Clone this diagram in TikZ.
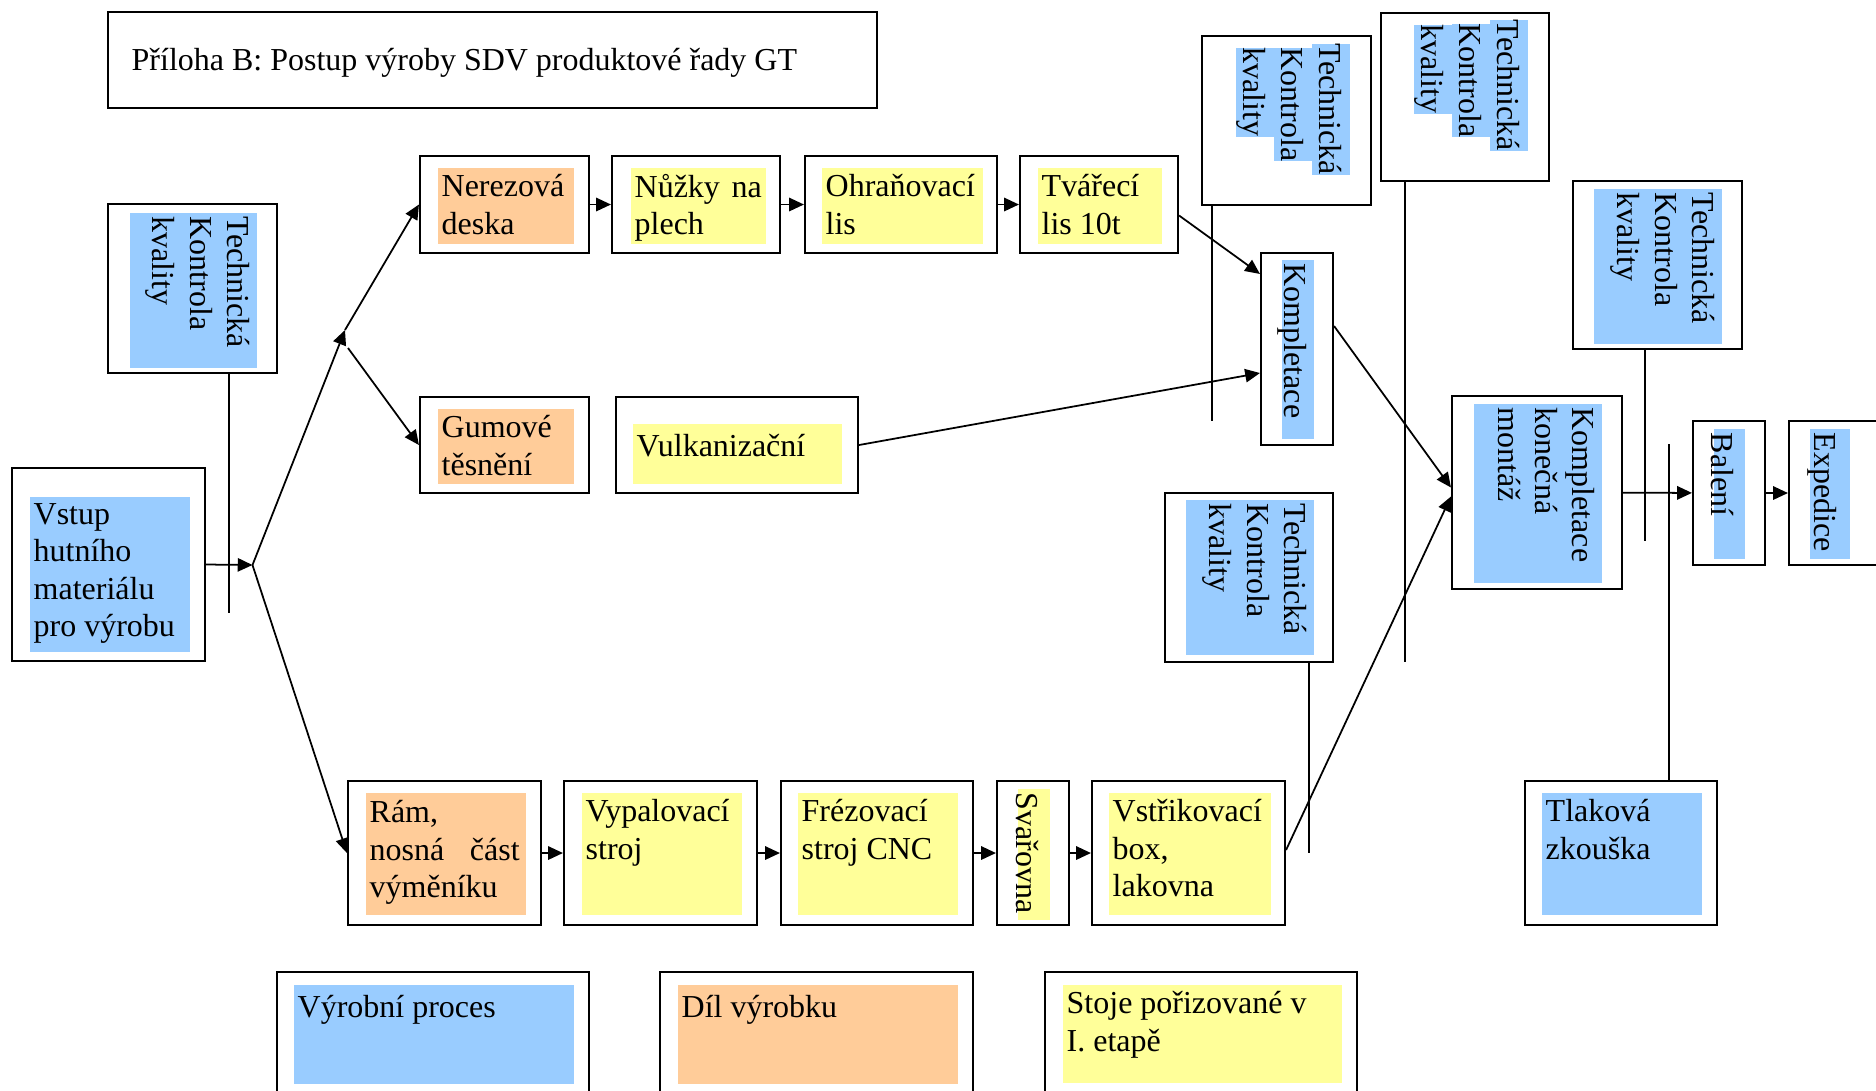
\documentclass[tikz,border=0pt]{standalone}
\usepackage{fontspec}
\setmainfont{Liberation Serif}
\usetikzlibrary{arrows.meta}
\definecolor{procblue}{HTML}{99CCFF}
\definecolor{partorange}{HTML}{FFCC99}
\definecolor{stageyellow}{HTML}{FFFF99}
\tikzset{frame/.style={draw,fill=white,line width=.6pt,inner sep=0pt},procfill/.style={fill=procblue,inner sep=0pt,anchor=north west},partfill/.style={fill=partorange,inner sep=0pt,anchor=north west},stagefill/.style={fill=stageyellow,inner sep=0pt,anchor=north west},boxtext/.style={font=\fontsize{9.1}{10.6}\selectfont,anchor=north west,align=left,inner xsep=.04cm,inner ysep=.07cm,execute at begin node=\strut},vtext/.style={boxtext,rotate=-90},hiline/.style={font=\fontsize{9.1}{10.6}\selectfont,fill=procblue,rotate=-90,anchor=north west,inner sep=0pt,text height=.31cm,text depth=.07cm},flow/.style={line width=.5pt,-{Triangle[length=4.2pt,width=3.8pt]}},checkline/.style={line width=.5pt}}

\begin{document}
\begin{tikzpicture}[x=1cm,y=-1cm]
\clip (0,0) rectangle (18.76,10.90);
% title
\node[frame,minimum width=7.69cm,minimum height=.96cm] (title) at (4.925,.60) {};
\node[boxtext,anchor=base west,inner sep=0pt] (titletext) at (1.31,.70) {Příloha B: Postup výroby SDV produktové řady GT};
% input and first check
\node[frame,minimum width=1.69cm,minimum height=1.69cm] (tk1) at (1.925,2.885) {};
\node[procfill,minimum width=1.27cm,minimum height=1.55cm] (tk1f) at (1.29,2.12) {};
\node[vtext] at (tk1f.north east) {Technická\\ Kontrola\\ kvality};
\node[frame,minimum width=1.93cm,minimum height=1.93cm] (vstup) at (1.085,5.645) {};
\node[procfill,minimum width=1.60cm,minimum height=1.55cm] (vstupf) at (.29,4.96) {};
\node[boxtext] at (vstupf.north west) {Vstup\\ hutního\\ materiálu\\ pro výrobu};
% upper row
\node[frame,minimum width=1.69cm,minimum height=.97cm] (nerez) at (5.045,2.045) {};
\node[partfill,minimum width=1.36cm,minimum height=.76cm] (nerezf) at (4.37,1.67) {};
\node[boxtext] at (nerezf.north west) {Nerezová\\ deska};
\node[frame,minimum width=1.68cm,minimum height=.97cm] (nuzky) at (6.96,2.045) {};
\node[stagefill,minimum width=1.35cm,minimum height=.76cm] (nuzkyf) at (6.30,1.67) {};
\node[boxtext,text width=1.27cm,yshift=.035cm] at (nuzkyf.north west) {Nůžky\hfill na\\ plech};
\node[frame,minimum width=1.92cm,minimum height=.97cm] (ohran) at (9.01,2.045) {};
\node[stagefill,minimum width=1.61cm,minimum height=.76cm] (ohranf) at (8.21,1.67) {};
\node[boxtext] at (ohranf.north west) {Ohraňovací\\ lis};
\node[frame,minimum width=1.58cm,minimum height=.97cm] (tvar) at (10.99,2.045) {};
\node[stagefill,minimum width=1.24cm,minimum height=.76cm] (tvarf) at (10.37,1.67) {};
\node[boxtext] at (tvarf.north west) {Tvářecí\\ lis 10t};
% middle row
\node[frame,minimum width=1.69cm,minimum height=.96cm] (gum) at (5.045,4.45) {};
\node[partfill,minimum width=1.36cm,minimum height=.75cm] (gumf) at (4.37,4.08) {};
\node[boxtext] at (gumf.north west) {Gumové\\ těsnění};
\node[frame,minimum width=2.42cm,minimum height=.96cm] (vulk) at (7.37,4.45) {};
\node[stagefill,minimum width=2.09cm,minimum height=.60cm] (vulkf) at (6.32,4.23) {};
\node[boxtext] at (vulkf.north west) {Vulkanizační};
\node[frame,minimum width=.72cm,minimum height=1.92cm] (kompl) at (12.97,3.49) {};
\node[procfill,minimum width=.32cm,minimum height=1.79cm] (komplf) at (12.81,2.59) {};
\node[vtext,yshift=.04cm] at (komplf.north east) {Kompletace};
% checks on the right
\node[frame,minimum width=1.69cm,minimum height=1.69cm] (tk2) at (12.865,1.205) {};
\node[hiline] at (13.51,.43) {Technická\hspace{.22cm}};
\node[hiline] at (13.13,.47) {Kontrola};
\node[hiline] at (12.75,.47) {kvality};
\node[frame,minimum width=1.68cm,minimum height=1.68cm] (tk3) at (14.65,.97) {};
\node[hiline] at (15.29,.19) {Technická\hspace{.22cm}};
\node[hiline] at (14.91,.23) {Kontrola};
\node[hiline] at (14.53,.24) {kvality};
\node[frame,minimum width=1.69cm,minimum height=1.68cm] (tk4) at (16.575,2.65) {};
\node[procfill,minimum width=1.28cm,minimum height=1.55cm] (tk4f) at (15.93,1.88) {};
\node[vtext] at (tk4f.north east) {Technická\\ Kontrola\\ kvality};
\node[frame,minimum width=1.68cm,minimum height=1.69cm] (tk5) at (12.49,5.775) {};
\node[procfill,minimum width=1.28cm,minimum height=1.55cm] (tk5f) at (11.85,4.99) {};
\node[vtext] at (tk5f.north east) {Technická\\ Kontrola\\ kvality};
% final assembly
\node[frame,minimum width=1.70cm,minimum height=1.93cm] (kkm) at (15.37,4.925) {};
\node[procfill,minimum width=1.28cm,minimum height=1.79cm] (kkmf) at (14.73,4.03) {};
\node[vtext] at (kkmf.north east) {Kompletace\\ konečná\\ montáž};
\node[frame,minimum width=.72cm,minimum height=1.44cm] (bal) at (17.29,4.93) {};
\node[procfill,minimum width=.31cm,minimum height=1.30cm] (balf) at (17.13,4.28) {};
\node[vtext] at (balf.north east) {Balení};
\node[frame,minimum width=.96cm,minimum height=1.44cm] (exped) at (18.37,4.93) {};
\node[procfill,minimum width=.40cm,minimum height=1.30cm] (expedf) at (18.09,4.28) {};
\node[vtext,yshift=-.02cm] at (expedf.north east) {Expedice};
\node[frame,minimum width=1.92cm,minimum height=1.44cm] (tlak) at (16.21,8.53) {};
\node[procfill,minimum width=1.60cm,minimum height=1.22cm] (tlakf) at (15.41,7.92) {};
\node[boxtext] at (tlakf.north west) {Tlaková\\ zkouška};
% lower row
\node[frame,minimum width=1.93cm,minimum height=1.44cm] (ram) at (4.445,8.53) {};
\node[partfill,minimum width=1.60cm,minimum height=1.22cm] (ramf) at (3.65,7.92) {};
\node[boxtext,text width=1.50cm,yshift=.03cm] at (ramf.north west) {Rám,\\ nosná\hfill část\\ výměníku};
\node[frame,minimum width=1.93cm,minimum height=1.44cm] (vypal) at (6.605,8.53) {};
\node[stagefill,minimum width=1.60cm,minimum height=1.22cm] (vypalf) at (5.81,7.92) {};
\node[boxtext] at (vypalf.north west) {Vypalovací\\ stroj};
\node[frame,minimum width=1.92cm,minimum height=1.44cm] (frez) at (8.77,8.53) {};
\node[stagefill,minimum width=1.60cm,minimum height=1.22cm] (frezf) at (7.97,7.92) {};
\node[boxtext] at (frezf.north west) {Frézovací\\ stroj CNC};
\node[frame,minimum width=.72cm,minimum height=1.44cm] (svar) at (10.33,8.53) {};
\node[stagefill,minimum width=.32cm,minimum height=1.31cm] (svarf) at (10.17,7.88) {};
\node[vtext] at (svarf.north east) {Svařovna};
\node[frame,minimum width=1.93cm,minimum height=1.44cm] (vstrik) at (11.885,8.53) {};
\node[stagefill,minimum width=1.62cm,minimum height=1.22cm] (vstrikf) at (11.08,7.92) {};
\node[boxtext] at (vstrikf.north west) {Vstřikovací\\ box,\\ lakovna};
% legend
\node[frame,minimum width=3.12cm,minimum height=1.40cm] (lgproc) at (4.33,10.42) {};
\node[procfill,minimum width=2.80cm,minimum height=.99cm] (lgprocf) at (2.93,9.84) {};
\node[boxtext] at (lgprocf.north west) {Výrobní proces};
\node[frame,minimum width=3.13cm,minimum height=1.40cm] (lgpart) at (8.165,10.42) {};
\node[partfill,minimum width=2.80cm,minimum height=.99cm] (lgpartf) at (6.77,9.84) {};
\node[boxtext] at (lgpartf.north west) {Díl výrobku};
\node[frame,minimum width=3.12cm,minimum height=1.40cm] (lgstage) at (12.01,10.42) {};
\node[stagefill,minimum width=2.79cm,minimum height=.98cm] (lgstagef) at (10.62,9.84) {};
\node[boxtext] at (lgstagef.north west) {Stoje pořizované v\\ I. etapě};
% branching
\coordinate (b0) at (2.525,5.65);
\coordinate (fork) at (3.45,3.30);
\coordinate (forklow) at (3.48,3.48);
\draw[flow] (vstup.east) -- (b0);
\draw[flow] (b0) -- (fork);
\draw[flow] (fork) -- (nerez.west);
\draw[flow] (forklow) -- (gum.west);
\draw[flow] (b0) -- (ram.west);
% process chains
\draw[flow] (nerez) -- (nuzky);
\draw[flow] (nuzky) -- (ohran);
\draw[flow] (ohran) -- (tvar);
\draw[flow] ([yshift=-.11cm]tvar.east) -- ([yshift=-.22cm]kompl.north west);
\draw[flow] (vulk.east) -- ([yshift=-.24cm]kompl.west);
\draw[flow] ([yshift=.23cm]kompl.east) -- ([yshift=.05cm]kkm.west);
\draw[flow] (ram) -- (vypal);
\draw[flow] (vypal) -- (frez);
\draw[flow] (frez) -- (svar);
\draw[flow] (svar) -- (vstrik);
\draw[flow] ([yshift=.03cm]vstrik.east) -- ([yshift=-.04cm]kkm.west);
\draw[flow] (kkm) -- (bal);
\draw[flow] (bal) -- (exped);
% check lines
\coordinate (tk1end) at (2.29,6.13);
\coordinate (tk2end) at (12.12,4.21);
\coordinate (tk3end) at (14.05,6.62);
\coordinate (tk4end) at (16.45,5.41);
\coordinate (tk5end) at (13.09,8.53);
\coordinate (tlakend) at (16.69,4.44);
\draw[checkline] (tk1end |- tk1.south) -- (tk1end);
\draw[checkline] (tk2end |- tk2.south) -- (tk2end);
\draw[checkline] (tk3end |- tk3.south) -- (tk3end);
\draw[checkline] (tk4end |- tk4.south) -- (tk4end);
\draw[checkline] (tk5end |- tk5.south) -- (tk5end);
\draw[checkline] (tlakend |- tlak.north) -- (tlakend);
\end{tikzpicture}
\end{document}
